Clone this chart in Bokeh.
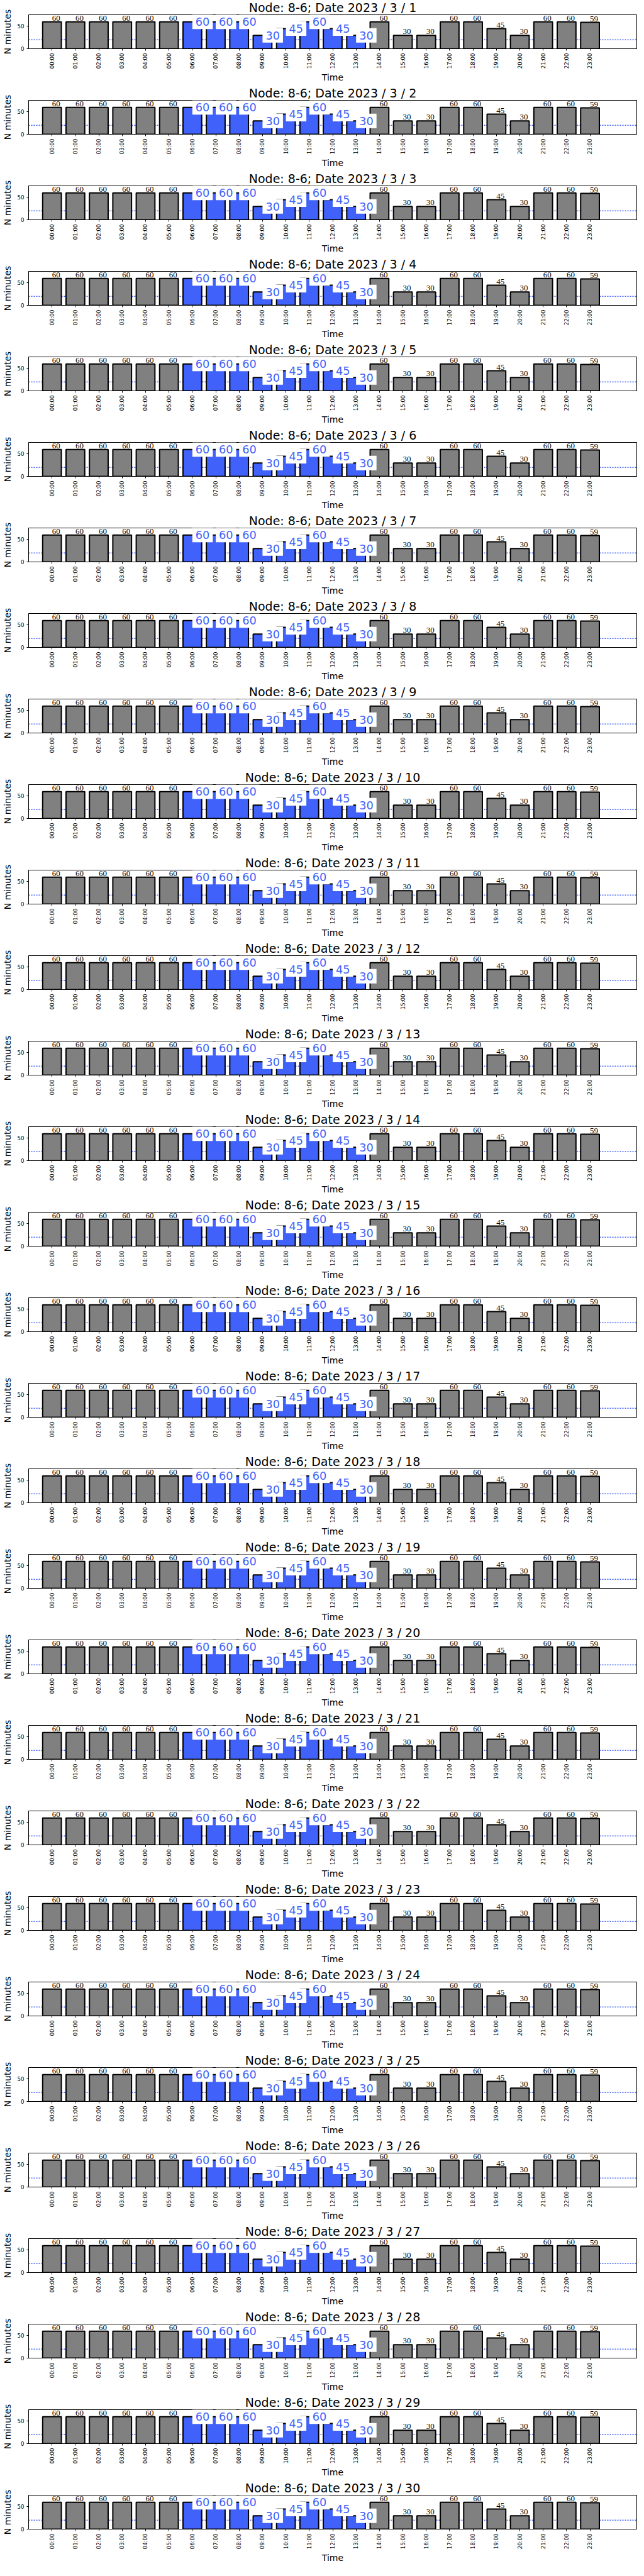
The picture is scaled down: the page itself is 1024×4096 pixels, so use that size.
import numpy as np
from bokeh.plotting import figure
from bokeh.models import ColumnDataSource, FixedTicker, Label, LabelSet, Span, Range1d
from bokeh.layouts import column
from bokeh.embed import file_html
from bokeh.resources import INLINE

# ---------------- data ----------------
hours = [0, 1, 2, 3, 4, 5, 6, 7, 8, 9, 10, 11, 12, 13, 14, 15, 16, 17, 18, 19, 20, 21, 22, 23]
hour_labels = ["00:00", "01:00", "02:00", "03:00", "04:00", "05:00", "06:00", "07:00",
               "08:00", "09:00", "10:00", "11:00", "12:00", "13:00", "14:00", "15:00",
               "16:00", "17:00", "18:00", "19:00", "20:00", "21:00", "22:00", "23:00"]
minutes = [60, 60, 60, 60, 60, 60, 60, 60, 60, 30, 45, 60, 45, 30, 60, 30, 30, 60, 60, 45, 30, 60, 60, 59]
highlighted = [False, False, False, False, False, False, True, True, True, True, True, True,
               True, True, False, False, False, False, False, False, False, False, False, False]
days = [1, 2, 3, 4, 5, 6, 7, 8, 9, 10, 11, 12, 13, 14, 15, 16, 17, 18, 19, 20,
        21, 22, 23, 24, 25, 26, 27, 28, 29, 30]
node = "8-6"
year, month = 2023, 3
threshold = 20
y_ticks = [0, 50]

# ---------------- style ----------------
FONT = "DejaVu Sans"
BLUE = "#4062fa"
GRAY = "#808080"
FW = 967
H = 136

colors = [BLUE if h else GRAY for h in highlighted]

figs = []
for d in days:
    p = figure(frame_width=FW, height=H,
               x_range=Range1d(-1, 25), y_range=Range1d(0, 76),
               output_backend="svg", toolbar_location=None,
               title=f"Node: {node}; Date {year} / {month} / {d}",
               min_border_left=39, min_border_right=4,
               min_border_top=25, min_border_bottom=57)
    p.title.align = "center"
    p.title.text_font = FONT
    p.title.text_font_size = "19px"
    p.title.text_font_style = "normal"
    p.title.text_color = "black"
    p.title.standoff = 0
    p.title.vertical_align = "middle"

    p.xgrid.visible = False
    p.ygrid.visible = False
    p.outline_line_color = "black"
    p.outline_line_width = 1
    p.background_fill_color = "white"
    p.border_fill_color = "white"

    p.add_layout(Span(location=threshold, dimension="width", line_color=BLUE,
                      line_dash="2 2", line_width=1.4, level="underlay"))

    src = ColumnDataSource(dict(x=hours, top=minutes, color=colors))
    p.vbar(x="x", top="top", width=0.8, fill_color="color", line_color="black",
           line_width=2, source=src)

    bx = [x for x, h in zip(hours, highlighted) if not h]
    by = [m for m, h in zip(minutes, highlighted) if not h]
    bsrc = ColumnDataSource(dict(x=bx, y=by, t=[str(v) for v in by]))
    p.add_layout(LabelSet(x="x", y="y", text="t", source=bsrc, y_offset=2,
                          text_font=FONT, text_font_size="13px", text_color="black",
                          text_align="left", text_baseline="alphabetic"))

    for x, m, h in zip(hours, minutes, highlighted):
        if h:
            p.add_layout(Label(x=x, y=m, text=str(m), text_font=FONT,
                               text_font_size="17.7px", text_color=BLUE,
                               text_align="left", text_baseline="alphabetic",
                               background_fill_color="white", background_fill_alpha=1.0,
                               padding=5))

    xa = p.xaxis[0]
    xa.ticker = FixedTicker(ticks=hours)
    xa.major_label_overrides = {h: lab for h, lab in zip(hours, hour_labels)}
    xa.major_label_orientation = np.pi / 2
    xa.axis_label = "Time"

    ya = p.yaxis[0]
    ya.ticker = FixedTicker(ticks=y_ticks)
    ya.axis_label = "N minutes"

    for ax in (xa, ya):
        ax.minor_tick_line_color = None
        ax.major_tick_in = 0
        ax.major_tick_out = 3
        ax.major_tick_line_color = "black"
        ax.axis_line_color = "black"
        ax.axis_line_width = 1
        ax.major_label_text_font = FONT
        ax.major_label_text_font_size = "8.6px"
        ax.major_label_text_color = "black"
        ax.axis_label_text_font = FONT
        ax.axis_label_text_font_size = "14px"
        ax.axis_label_text_font_style = "normal"
        ax.axis_label_text_color = "black"
    xa.major_label_standoff = 4
    xa.axis_label_standoff = 3
    ya.major_label_standoff = 4
    ya.axis_label_standoff = 5
    figs.append(p)

layout = column(*figs, spacing=0, styles={"margin-top": "-2px"})
open("out.html", "w").write(file_html(layout, INLINE))
